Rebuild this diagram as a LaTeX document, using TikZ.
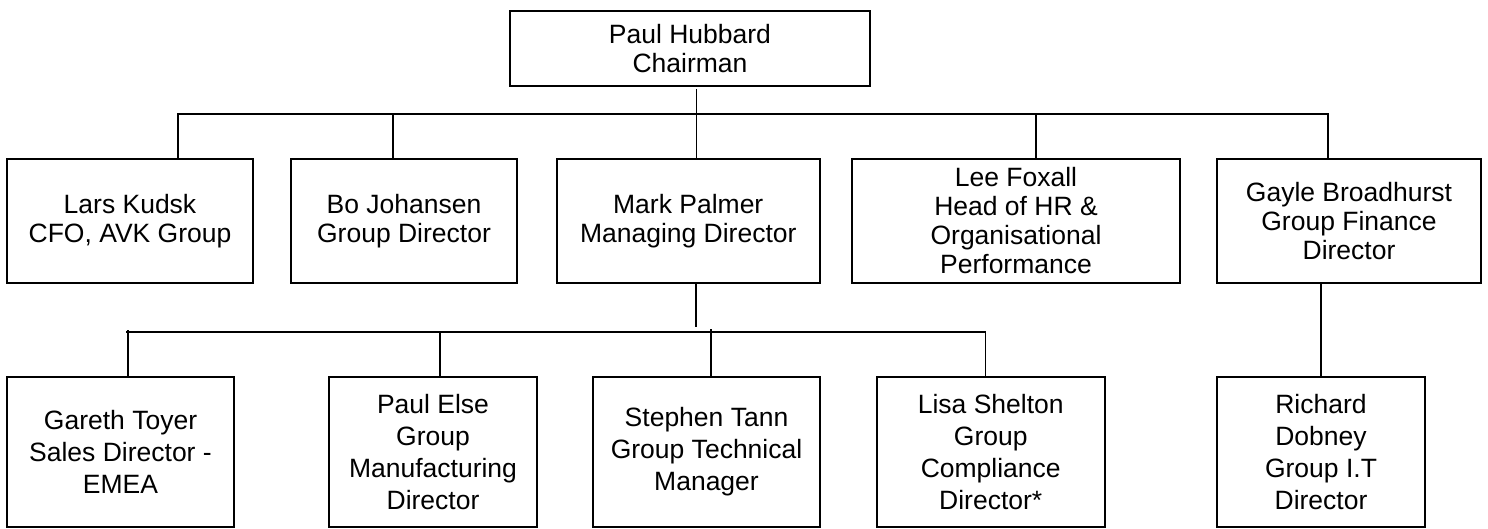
\documentclass[tikz,border=0pt]{standalone}
\usepackage{fontspec}
\setmainfont{Liberation Sans}
\begin{document}
\begin{tikzpicture}[x=1pt,y=-1pt,
  box/.style={draw=black, line width=2pt, rectangle, inner sep=0pt, align=center,
    font=\fontsize{26.5}{29}\selectfont},
  lowbox/.style={box, font=\fontsize{26.5}{32}\selectfont},
  conn/.style={draw=black, line width=1.6pt},
  thinconn/.style={draw=black, line width=1.1pt}]
\useasboundingbox (0,0) rectangle (1488,529);

% top
\node[box, minimum width=360pt, minimum height=75pt] (top) at (690,48.5) {Paul Hubbard\\Chairman};

% level 1
\node[box, minimum width=245.5pt, minimum height=124pt] (lars) at (130,221) {Lars Kudsk\\CFO, AVK Group};
\node[box, minimum width=226pt, minimum height=124pt] (bo) at (404,221) {Bo Johansen\\Group Director};
\node[box, minimum width=263.5pt, minimum height=124pt] (mark) at (688.25,221) {Mark Palmer\\Managing Director};
\node[box, minimum width=328pt, minimum height=124pt] (lee) at (1016,221) {Lee Foxall\\Head of HR \&\\Organisational\\Performance};
\node[box, minimum width=264pt, minimum height=124pt] (gayle) at (1349,221) {Gayle Broadhurst\\Group Finance\\Director};

% level 2
\node[lowbox, minimum width=227pt, minimum height=150.5pt] (gareth) at (120.5,452) {Gareth Toyer\\Sales Director -\\EMEA};
\node[lowbox, minimum width=208pt, minimum height=150.5pt] (else) at (433,452) {Paul Else\\Group\\Manufacturing\\Director};
\node[lowbox, minimum width=227pt, minimum height=150.5pt] (tann) at (706.5,452) {Stephen Tann\\Group Technical\\Manager};
\node[lowbox, minimum width=227.5pt, minimum height=150.5pt] (lisa) at (990.75,452) {Lisa Shelton\\Group\\Compliance\\Director*};
\node[lowbox, minimum width=208pt, minimum height=150.5pt] (richard) at (1321,452) {Richard\\Dobney\\Group I.T\\Director};

% bus 1
\coordinate (c0) at (696.5,114);
\coordinate (bL) at (178,114);
\coordinate (bB) at (393,114);
\coordinate (bM) at (696.5,114);
\coordinate (bLee) at (1036,114);
\coordinate (bG) at (1328,114);
\draw[thinconn] (top.south -| c0) ++(0,2) -- (c0);
\draw[conn] (bL |- lars.north) -- (bL) -- (bG) -- (bG |- gayle.north);
\draw[conn] (bB) -- (bB |- bo.north);
\draw[conn] (bM) -- (bM |- mark.north);
\draw[conn] (bLee) -- (bLee |- lee.north);

% bus 2
\coordinate (m2) at (696,327);
\coordinate (s1) at (126,332);
\coordinate (sGa) at (128,332);
\coordinate (sE) at (440,332);
\coordinate (sT) at (711,329);
\coordinate (sL) at (985.5,332);
\draw[thinconn] (mark.south -| m2) -- (m2);
\draw[conn] (s1) -- (sL) -- (sL |- lisa.north);
\draw[conn] (sGa) ++(0,-2) -- (sGa |- gareth.north);
\draw[conn] (sE) -- (sE |- else.north);
\draw[conn] (sT) -- (sT |- tann.north);

% Gayle to Richard
\draw[thinconn] (richard.north |- gayle.south) -- (richard.north);
\end{tikzpicture}
\end{document}
